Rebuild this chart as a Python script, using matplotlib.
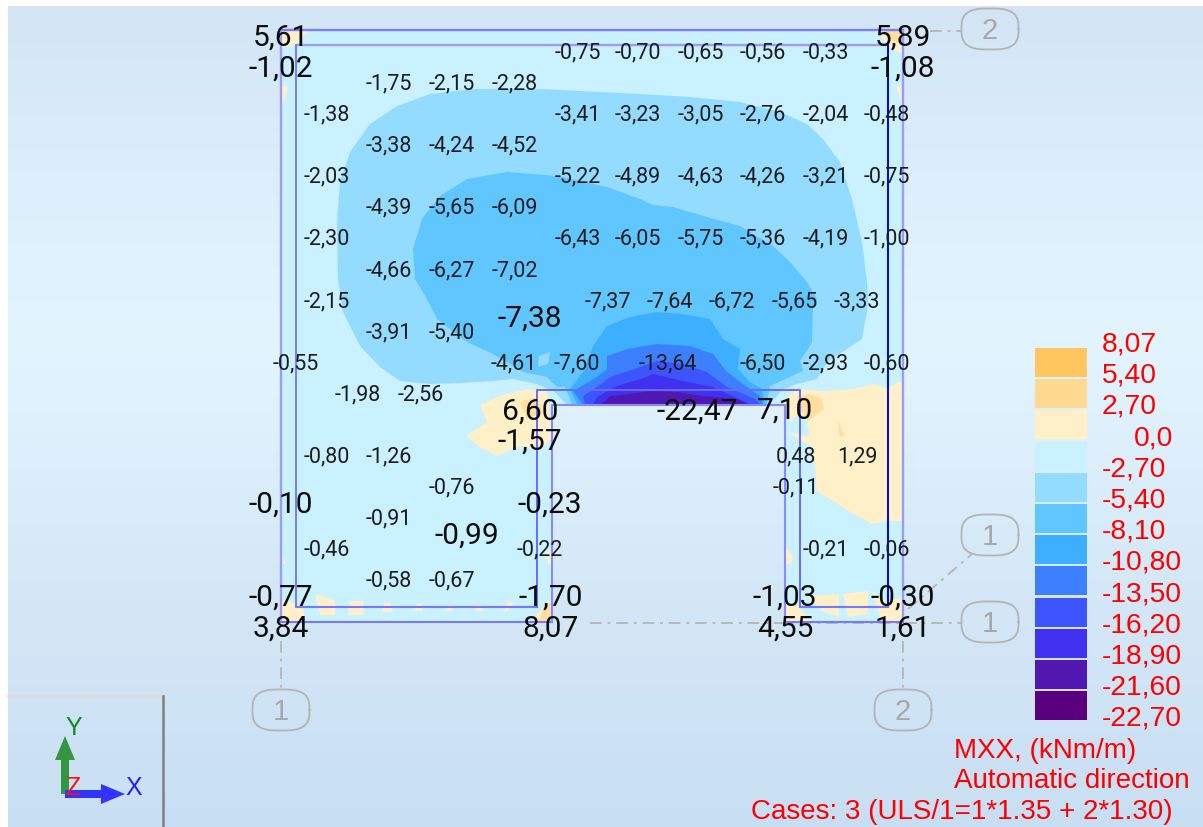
import numpy as np
import matplotlib
matplotlib.use("Agg")
import matplotlib.pyplot as plt
from matplotlib.patches import Polygon, Rectangle

# everything in pixel coordinates
W, H = 1203, 828

legend_labels = ["8,07", "5,40", "2,70", "0,0", "-2,70", "-5,40", "-8,10", "-10,80",
                 "-13,50", "-16,20", "-18,90", "-21,60", "-22,70"]
legend_colors = ["#ffc55f", "#ffd98f", "#fff0c8", "#c9f1ff", "#93dcff", "#60c6ff", "#3eaeff",
                 "#3d80ff", "#3d55ff", "#4030f0", "#5018b0", "#5a007f"]

C_CREAM, C_CREAM2, C_BASE = "#fff0c8", "#ffdf9f", "#c9f1ff"
C_B1, C_B2, C_B3, C_B4, C_B5, C_B6, C_B7 = "#93dcff", "#60c6ff", "#3eaeff", "#3d80ff", "#3d55ff", "#4030f0", "#5018b0"

slab = [(281, 31), (903, 31), (903, 623), (785, 623), (785, 406), (552, 406), (552, 623), (281, 623)]

band_1 = [(337, 223), (340, 183), (350, 153), (370, 125), (397, 107), (430, 95), (473, 90), (540, 90), (640, 95),
          (690, 98), (740, 103), (780, 113), (807, 125), (823, 140), (840, 163), (852, 200), (862, 243), (867, 283),
          (868, 300), (867, 313), (865, 323), (862, 340), (847, 350), (827, 363), (817, 380), (797, 385), (783, 390),
          (770, 405), (566, 405), (555, 393), (537, 385), (513, 380), (493, 382), (460, 384), (430, 385), (400, 382),
          (380, 368), (360, 347), (343, 313), (338, 280)]
band_2 = [(413, 250), (422, 220), (440, 197), (467, 180), (507, 173), (557, 177), (607, 188), (640, 200), (653, 206),
          (673, 208), (707, 218), (740, 227), (773, 247), (790, 263), (807, 283), (817, 300), (813, 310), (812, 343),
          (808, 350), (800, 362), (803, 372), (790, 378), (770, 387), (767, 405), (572, 405), (565, 388), (557, 388),
          (547, 378), (523, 373), (493, 355), (467, 343), (437, 320), (427, 300), (415, 280)]
notch = [(539, 357), (550, 353), (548, 365), (538, 368)]
band_3 = [(593, 347), (607, 327), (630, 318), (657, 313), (683, 315), (710, 320), (723, 340), (740, 350), (738, 370),
          (750, 383), (762, 390), (765, 405), (577, 405), (570, 390), (583, 373)]
band_4 = [(607, 357), (627, 350), (657, 345), (690, 347), (713, 355), (727, 373), (743, 385), (760, 397), (763, 405),
          (582, 405), (573, 392), (597, 378), (607, 370)]
band_5 = [(610, 378), (640, 368), (657, 362), (683, 365), (707, 373), (727, 388), (755, 400), (760, 405), (585, 405),
          (583, 397), (597, 388)]
band_6 = [(617, 387), (647, 378), (653, 375), (683, 382), (713, 388), (743, 402), (750, 405), (593, 405), (597, 398)]
band_7 = [(602, 405), (610, 397), (630, 395), (650, 392), (677, 393), (703, 397), (737, 400), (747, 405)]

cream_patches = [
    [(281, 32), (308, 32), (296, 46), (282, 48)],
    [(282, 87), (288, 87), (283, 108)],
    [(877, 32), (902, 32), (902, 55), (888, 47)],
    [(896, 87), (901, 87), (902, 107)],
    [(480, 406), (500, 397), (527, 390), (547, 392), (550, 420), (552, 440), (540, 450), (520, 447), (497, 457),
     (480, 448), (466, 437), (487, 423)],
    [(783, 402), (797, 390), (823, 392), (853, 390), (873, 385), (887, 389), (903, 381), (903, 522), (887, 522),
     (872, 525), (850, 513), (830, 500), (817, 493), (815, 467), (810, 447), (787, 433), (810, 438), (805, 416),
     (795, 418), (790, 423)],
    [(785, 547), (793, 557), (792, 563), (785, 567)],
    [(808, 597), (839, 595), (839, 618), (822, 612)],
    [(843, 595), (868, 592), (868, 615), (848, 618)],
    [(872, 593), (887, 603), (903, 598), (903, 623), (882, 622)],
    [(785, 603), (798, 607), (812, 623), (785, 623)],
    [(282, 600), (303, 608), (305, 622), (282, 622)],
    [(315, 595), (335, 602), (335, 616), (320, 616)],
    [(350, 602), (363, 602), (364, 616), (348, 616)],
    [(384, 604), (391, 604), (393, 613), (382, 613)],
    [(417, 605), (421, 605), (423, 612), (413, 612)],
    [(448, 606), (451, 606), (453, 612), (445, 612)],
    [(477, 606), (482, 606), (483, 612), (475, 612)],
    [(508, 603), (514, 603), (507, 613), (504, 613)],
    [(550, 600), (551, 622), (532, 622)],
    [(282, 553), (286, 565), (283, 565)],
    [(547, 553), (551, 550), (551, 565), (547, 565)],
]
warm_patches = [
    [(520, 403), (537, 398), (543, 413), (527, 420)],
    [(797, 398), (810, 395), (822, 400), (824, 410), (808, 422), (800, 410)],
    [(838, 422), (845, 437), (839, 438)],
    [(885, 32), (902, 32), (902, 45), (892, 42)],
    [(543, 610), (551, 604), (551, 622), (539, 622)],
]

# labels: (text, x, y)
small_labels = [
    ("-0,75", 578, 52), ("-0,70", 638, 52), ("-0,65", 701, 52), ("-0,56", 763, 52), ("-0,33", 826, 52),
    ("-1,75", 389, 83), ("-2,15", 452, 83), ("-2,28", 515, 83),
    ("-1,38", 327, 114), ("-3,41", 578, 114), ("-3,23", 638, 114), ("-3,05", 701, 114), ("-2,76", 763, 114),
    ("-2,04", 826, 114), ("-0,48", 887, 114),
    ("-3,38", 389, 145), ("-4,24", 452, 145), ("-4,52", 515, 145),
    ("-2,03", 327, 176), ("-5,22", 578, 176), ("-4,89", 638, 176), ("-4,63", 701, 176), ("-4,26", 763, 176),
    ("-3,21", 826, 176), ("-0,75", 887, 176),
    ("-4,39", 389, 207), ("-5,65", 452, 207), ("-6,09", 515, 207),
    ("-2,30", 327, 238), ("-6,43", 578, 238), ("-6,05", 638, 238), ("-5,75", 701, 238), ("-5,36", 763, 238),
    ("-4,19", 826, 238), ("-1,00", 887, 238),
    ("-4,66", 389, 270), ("-6,27", 452, 270), ("-7,02", 515, 270),
    ("-2,15", 327, 301), ("-7,37", 608, 301), ("-7,64", 670, 301), ("-6,72", 732, 301), ("-5,65", 795, 301),
    ("-3,33", 857, 301),
    ("-3,91", 389, 332), ("-5,40", 452, 332),
    ("-0,55", 296, 363), ("-4,61", 514, 363), ("-7,60", 577, 363), ("-13,64", 668, 363), ("-6,50", 763, 363),
    ("-2,93", 826, 363), ("-0,60", 887, 363),
    ("-1,98", 358, 394), ("-2,56", 421, 394),
    ("-0,80", 327, 456), ("-1,26", 389, 456), ("0,48", 796, 456), ("1,29", 857, 456),
    ("-0,76", 452, 487), ("-0,11", 796, 487),
    ("-0,91", 389, 518),
    ("-0,46", 327, 549), ("-0,22", 540, 549), ("-0,21", 826, 549), ("-0,06", 887, 549),
    ("-0,58", 389, 580), ("-0,67", 452, 580),
]
big_labels = [
    ("5,61", 281, 37), ("-1,02", 281, 68), ("5,89", 903, 37), ("-1,08", 903, 68),
    ("-7,38", 530, 318), ("6,60", 530, 411), ("-1,57", 530, 441), ("-22,47", 697, 411), ("7,10", 785, 410),
    ("-0,23", 550, 504), ("-0,10", 281, 504), ("-0,99", 467, 535),
    ("-0,77", 281, 597), ("3,84", 281, 628), ("-1,70", 551, 597), ("8,07", 551, 628),
    ("-1,03", 785, 597), ("4,55", 785, 628), ("-0,30", 903, 597), ("1,61", 903, 628),
]
grid_bubbles = [("2", 990, 30), ("1", 990, 536), ("1", 990, 623), ("1", 281, 711), ("2", 903, 711)]
bg_y = [7, 150, 340, 600, 828]
bg_rgb = [(211, 229, 244), (218, 237, 250), (226, 245, 255), (212, 231, 246), (200, 223, 243)]
caption = ["MXX, (kNm/m)", "Automatic direction", "Cases: 3 (ULS/1=1*1.35 + 2*1.30)"]

fig = plt.figure(figsize=(W / 100, H / 100), dpi=100)
ax = fig.add_axes([0, 0, 1, 1])
ax.set_xlim(0, W)
ax.set_ylim(H, 0)
ax.axis("off")

# background
ys = np.arange(7, H)
grad = np.stack([np.interp(ys, bg_y, [c[i] for c in bg_rgb]) for i in range(3)], axis=1)[:, None, :] / 255
ax.imshow(grad, extent=[8, W, H, 7], aspect="auto", zorder=0)
ax.set_xlim(0, W)
ax.set_ylim(H, 0)

# grid lines
line_kw = dict(color="#b8b8b8", lw=1.4, ls=(0, (6, 3, 1.5, 3)), zorder=1)
ax.plot([281, 281], [642, 690], **line_kw)
ax.plot([903, 903], [642, 690], **line_kw)
ax.plot([930, 962], [32, 32], **line_kw)
ax.plot([590, 962], [624, 624], **line_kw)
ax.plot([908, 972], [610, 555], **line_kw)

# slab and its result bands
ax.add_patch(Polygon(slab, closed=True, fc=C_BASE, ec="none", zorder=2))
for pts in cream_patches:
    ax.add_patch(Polygon(pts, closed=True, fc=C_CREAM, ec="none", zorder=3))
for pts in warm_patches:
    ax.add_patch(Polygon(pts, closed=True, fc=C_CREAM2, ec="none", zorder=3.1))
bands = [(band_1, C_B1), (band_2, C_B2), (notch, C_B1), (band_3, C_B3), (band_4, C_B4),
         (band_5, C_B5), (band_6, C_B6), (band_7, C_B7)]
for i, (pts, col) in enumerate(bands):
    ax.add_patch(Polygon(pts, closed=True, fc=col, ec="none", zorder=4 + i * 0.1))

# wall outlines
pale = dict(color="#9a9aff", lw=1.7, zorder=6, solid_capstyle="butt")
ax.plot([281, 903], [31, 31], color="#7c7cff", lw=1.7, zorder=6)
ax.plot([296, 888], [46, 46], **pale)
ax.plot([281, 281], [31, 623], **pale)
ax.plot([296, 296], [46, 608], color="#7878ff", lw=1.4, zorder=6)
ax.plot([903, 903], [31, 623], **pale)
ax.plot([888, 888], [46, 608], color="#0000e8", lw=1.4, zorder=6)
ax.plot([281, 552], [623, 623], color="#7878ff", lw=1.5, zorder=6)
ax.plot([296, 537], [608, 608], color="#7878ff", lw=1.5, zorder=6)
ax.plot([537, 537, 800, 800], [608, 391, 391, 608], color="#6a6aff", lw=1.4, zorder=6)
ax.plot([552, 552, 785, 785], [623, 406, 406, 623], color="#8a8aff", lw=1.5, zorder=6)
ax.plot([785, 903], [623, 623], color="#7878ff", lw=1.5, zorder=6)
ax.plot([800, 888], [608, 608], color="#7878ff", lw=1.5, zorder=6)

# values
for txt, x, y in small_labels:
    ax.text(x, y + 1, txt, family="Roboto", fontsize=15.5, color="#1c1c1c", ha="center", va="center", zorder=8)
for txt, x, y in big_labels:
    ax.text(x, y + 1, txt, family="Roboto", fontsize=21.5, color="#0c0c0c", ha="center", va="center", zorder=9)

# axis bubbles, squashed ovals
t = np.linspace(0, 2 * np.pi, 120)
for txt, x, y in grid_bubbles:
    ox = 28.5 * np.sign(np.cos(t)) * np.abs(np.cos(t)) ** (2 / 3)
    oy = 20.5 * np.sign(np.sin(t)) * np.abs(np.sin(t)) ** (2 / 3)
    ax.plot(x + ox, y + oy, color="#b4b4b4", lw=1.3, zorder=7)
    ax.text(x, y + 1, txt, family="Liberation Sans", fontsize=21, color="#a8a8a8", ha="center", va="center", zorder=7)

# colour legend
for i, col in enumerate(legend_colors):
    ax.add_patch(Rectangle((1035, 349 + i * 31.2), 52, 29, fc=col, ec="none", zorder=5))
for i, lab in enumerate(legend_labels):
    x = 1134 if lab == "0,0" else 1102
    ax.text(x, 344.5 + i * 31.2, lab, family="Liberation Sans", fontsize=20.3, color="#ff0000", ha="left", va="center", zorder=8)

# caption
ax.text(954, 751, caption[0], family="Liberation Sans", fontsize=20, color="#ff0000", ha="left", va="center")
ax.text(954, 781, caption[1], family="Liberation Sans", fontsize=20, color="#ff0000", ha="left", va="center")
ax.text(751, 812, caption[2], family="Liberation Sans", fontsize=20, color="#ff0000", ha="left", va="center")

# view cube corner
ax.plot([8, 163], [697, 697], color="#dcdcdc", lw=2, zorder=2)
ax.plot([163, 163], [697, H], color="#808080", lw=1.8, zorder=2)
ax.arrow(65, 795, 0, -58, width=8, head_width=20, head_length=24, length_includes_head=True,
         fc="#339640", ec="none", zorder=3)
ax.arrow(65, 795, 60, 0, width=8, head_width=20, head_length=24, length_includes_head=True,
         fc="#3333ff", ec="none", zorder=4)
ax.text(74, 728, "Y", family="Liberation Sans", fontsize=18, color="#0f8a20", ha="center", va="center")
ax.text(134, 788, "X", family="Liberation Sans", fontsize=18, color="#2020ff", ha="center", va="center")
ax.text(73, 788, "Z", family="Liberation Sans", fontsize=18, color="#ff1010", ha="center", va="center", zorder=5)

fig.savefig("out.png", dpi=100)
